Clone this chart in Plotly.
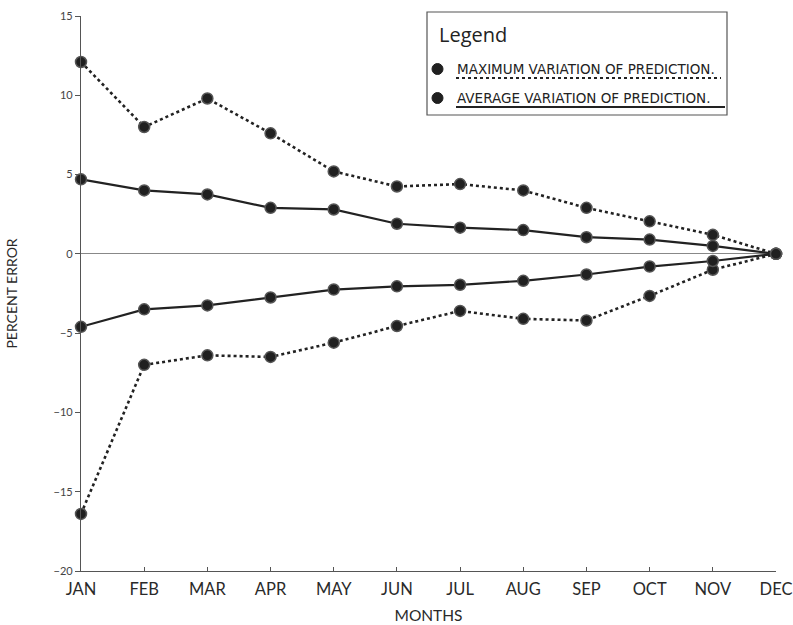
import plotly.graph_objects as go

months = ["JAN", "FEB", "MAR", "APR", "MAY", "JUN", "JUL", "AUG", "SEP", "OCT", "NOV", "DEC"]
max_upper = [12.1, 8.0, 9.8, 7.6, 5.2, 4.25, 4.4, 4.0, 2.9, 2.05, 1.2, 0.0]
max_lower = [-16.4, -7.0, -6.4, -6.5, -5.6, -4.55, -3.6, -4.1, -4.2, -2.65, -1.0, 0.0]
avg_upper = [4.7, 4.0, 3.75, 2.9, 2.8, 1.9, 1.65, 1.5, 1.05, 0.9, 0.5, 0.0]
avg_lower = [-4.6, -3.5, -3.25, -2.75, -2.25, -2.05, -1.95, -1.7, -1.3, -0.8, -0.45, 0.0]
y_ticks = [-20, -15, -10, -5, 0, 5, 10, 15]

# body margin is removed in post_script, so the figure fills the window exactly
W, H = 793, 625
PLOT_X0, PLOT_X1, PLOT_Y0, PLOT_Y1 = 81, 776, 16, 571   # window pixels
L, R = PLOT_X0, W - PLOT_X1
T, B = PLOT_Y0, H - PLOT_Y1
PW, PH = PLOT_X1 - PLOT_X0, PLOT_Y1 - PLOT_Y0

def px(x):
    return (x - PLOT_X0) / PW

def py(y):
    return (PLOT_Y1 - y) / PH

FONT = "Lato"
LEG_FONT = "DejaVu Sans"
INK = "#222222"
TXT = "#2a2a2a"
xs = list(range(len(months)))

fig = go.Figure()
marker = dict(size=11, color="#202020", line=dict(color="#555555", width=1.5))
for vals, dash, name in [
    (max_upper, "dot", "max_up"),
    (max_lower, "dot", "max_lo"),
    (avg_upper, "solid", "avg_up"),
    (avg_lower, "solid", "avg_lo"),
]:
    fig.add_trace(go.Scatter(
        x=xs, y=vals, mode="lines+markers", name=name,
        line=dict(color=INK, width=2.2 if dash == "solid" else 2.6, dash=dash),
        marker=marker, cliponaxis=False, showlegend=False,
    ))

shapes = [
    dict(type="rect", xref="paper", yref="paper", x0=px(427), x1=px(727), y0=py(115), y1=py(12),
         line=dict(color="#555555", width=1.2), fillcolor="white", layer="above"),
    dict(type="line", xref="paper", yref="paper", x0=px(456), x1=px(721), y0=py(78), y1=py(78),
         line=dict(color=INK, width=2, dash="dot"), layer="above"),
    dict(type="line", xref="paper", yref="paper", x0=px(456), x1=px(725), y0=py(107), y1=py(107),
         line=dict(color=INK, width=2), layer="above"),
]
for cy in (69, 98):
    shapes.append(dict(type="circle", xref="paper", yref="paper",
                       x0=px(432), x1=px(443), y0=py(cy + 5.5), y1=py(cy - 5.5),
                       fillcolor="#202020", line=dict(color="#202020", width=1), layer="above"))

annotations = [
    dict(text="Legend", xref="paper", yref="paper", x=px(437), y=py(35), xanchor="left", yanchor="middle",
         showarrow=False, font=dict(family="Open Sans", size=20, color=INK)),
    dict(text="MAXIMUM VARIATION OF PREDICTION.", xref="paper", yref="paper", x=px(455), y=py(69),
         xanchor="left", yanchor="middle", showarrow=False, font=dict(family=LEG_FONT, size=13.5, color=INK)),
    dict(text="AVERAGE VARIATION OF PREDICTION.", xref="paper", yref="paper", x=px(455), y=py(98),
         xanchor="left", yanchor="middle", showarrow=False, font=dict(family=LEG_FONT, size=13.5, color=INK)),
]

fig.update_layout(
    width=W, height=H,
    margin=dict(l=L, r=R, t=T, b=B, autoexpand=False),
    paper_bgcolor="white", plot_bgcolor="white",
    shapes=shapes, annotations=annotations,
    xaxis=dict(
        range=[0, 11], tickmode="array", tickvals=xs, ticktext=months, automargin=False,
        showgrid=False, zeroline=False, showline=True, linecolor="#555555", linewidth=1.2,
        ticks="inside", ticklen=4, tickcolor="#555555", ticklabelstandoff=3,
        tickfont=dict(family=FONT, size=16.5, color=TXT),
        title=dict(text="MONTHS", font=dict(family=FONT, size=15.5, color=TXT), standoff=12),
    ),
    yaxis=dict(
        range=[-20, 15], tickmode="array", tickvals=y_ticks, automargin=False,
        showgrid=False, zeroline=True, zerolinecolor="#888888", zerolinewidth=1,
        showline=True, linecolor="#555555", linewidth=1.2,
        ticks="outside", ticklen=5, tickcolor="#555555",
        tickfont=dict(family=FONT, size=11, color="#444444"),
        title=dict(text="PERCENT ERROR", font=dict(family=FONT, size=14, color=TXT), standoff=32),
    ),
)

fig.write_html(
    "out.html",
    config={"displayModeBar": False},
    post_script="document.body.style.margin='0';document.body.style.overflow='hidden';",
)
